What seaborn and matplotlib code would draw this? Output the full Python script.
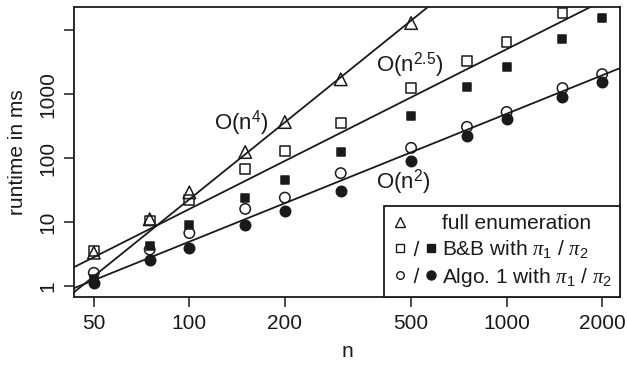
import numpy as np
import pandas as pd
import matplotlib
matplotlib.use('Agg')
import matplotlib.pyplot as plt
import seaborn as sns
from matplotlib.lines import Line2D
from matplotlib.legend_handler import HandlerTuple

# runtimes in ms
n_vals = [50, 75, 100, 150, 200, 300, 500, 750, 1000, 1500, 2000]
full_enum = [3.3, 11, 29, 124, 365, 1700, 12900, None, None, None, None]
bb_pi1 = [3.5, 10.5, 22, 67, 128, 350, 1240, 3300, 6500, 18500, None]
bb_pi2 = [1.3, 4.2, 8.9, 24, 45, 124, 455, 1270, 2650, 7250, 15400]
algo_pi1 = [1.6, 3.7, 6.7, 16, 24, 58, 144, 307, 525, 1240, 2050]
algo_pi2 = [1.1, 2.5, 3.9, 9, 15, 30, 89, 220, 405, 895, 1540]

# fitted trend lines c * n^k, with label anchor (n, ms)
fit_exp = [4, 2.5, 2]
fit_coef = [2.26e-7, 1.59e-4, 4.91e-4]
fit_labels = ['O(n$^4$)', 'O(n$^{2.5}$)', 'O(n$^2$)']
label_n = [146, 496, 472]
label_ms = [353, 2840, 42]

x_ticks = [50, 100, 200, 500, 1000, 2000]
y_ticks = [1, 10, 100, 1000, 10000]
y_ticklabels = ['1', '10', '100', '1000', '']

sns.set_style('ticks')
plt.rcParams['font.family'] = ['Liberation Sans', 'DejaVu Sans']
plt.rcParams['mathtext.fontset'] = 'custom'
plt.rcParams['mathtext.rm'] = 'Liberation Sans'
plt.rcParams['mathtext.it'] = 'Liberation Serif:italic'
plt.rcParams['mathtext.sf'] = 'Liberation Sans'

ink = '#1a1a1a'
df = pd.DataFrame({'n': n_vals, 'full': full_enum, 'bb1': bb_pi1, 'bb2': bb_pi2,
                   'al1': algo_pi1, 'al2': algo_pi2}).astype(float)

fig = plt.figure(figsize=(6.27, 3.67), dpi=100)
ax = fig.add_axes([74/627, 1 - 297/367, (620 - 74)/627, (297 - 7)/367])
ax.set_xscale('log')
ax.set_yscale('log')
ax.set_xlim(43.3, 2277)
ax.set_ylim(0.67, 23000)

# trend lines
grid = np.geomspace(30, 3000, 60)
for k, c in zip(fit_exp, fit_coef):
    sns.lineplot(x=grid, y=c * grid**k, ax=ax, color=ink, lw=1.3)

styles = [('full', '^', 'none', 9), ('bb1', 's', 'none', 7), ('bb2', 's', ink, 6),
          ('al1', 'o', 'none', 7.5), ('al2', 'o', ink, 7.5)]
for col, m, fc, s in styles:
    ax.scatter(df['n'], df[col], marker=m, s=s**2, facecolors=fc,
               edgecolors=ink, linewidths=1.1, zorder=3)

for lab, xn, ym in zip(fit_labels, label_n, label_ms):
    ax.text(xn, ym, lab, fontsize=16, ha='center', va='center', color=ink)

ax.set_xticks(x_ticks)
ax.set_xticklabels([str(v) for v in x_ticks])
ax.set_yticks(y_ticks)
ax.set_yticklabels(y_ticklabels, rotation=90, va='center')
ax.minorticks_off()
ax.tick_params(axis='both', labelsize=15, length=7, width=1.1, colors=ink, pad=5)
for sp in ax.spines.values():
    sp.set_linewidth(1.3)
    sp.set_color(ink)

ax.set_xlabel('n', fontsize=15, color=ink, labelpad=7)
ax.set_ylabel('runtime in ms', fontsize=15, color=ink, labelpad=8)

blank = Line2D([], [], ls='none', marker=None)
tri = Line2D([], [], ls='none', marker='^', mfc='none', mec=ink, ms=7)
sq_o = Line2D([], [], ls='none', marker='s', mfc='none', mec=ink, ms=5.5)
sq_f = Line2D([], [], ls='none', marker='s', mfc=ink, mec=ink, ms=5.5)
ci_o = Line2D([], [], ls='none', marker='o', mfc='none', mec=ink, ms=5.5)
ci_f = Line2D([], [], ls='none', marker='o', mfc=ink, mec=ink, ms=6.5)
slash = Line2D([], [], ls='none', marker='$/$', color=ink, ms=11, mew=0)
leg = ax.legend([(tri, blank, blank), (sq_o, slash, sq_f), (ci_o, slash, ci_f)],
                ['full enumeration', r'B&B with $\pi_1$ / $\pi_2$',
                 r'Algo. 1 with $\pi_1$ / $\pi_2$'],
                handler_map={tuple: HandlerTuple(ndivide=None, pad=0.0)},
                loc='lower right', borderaxespad=0, fontsize=15, fancybox=False,
                framealpha=1, edgecolor=ink, handlelength=2.2, handletextpad=0.15,
                labelspacing=0.25, borderpad=0.4)
leg.get_frame().set_linewidth(1.3)
for t in leg.get_texts():
    t.set_color(ink)

fig.savefig('out.png', dpi=100)
